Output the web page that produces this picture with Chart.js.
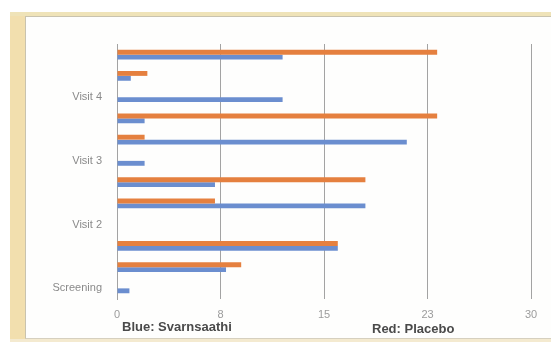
<!DOCTYPE html>
<html>
<head>
<meta charset="utf-8">
<script src="https://cdn.jsdelivr.net/npm/chart.js@4/dist/chart.umd.min.js"></script>
<style>
  html, body { margin: 0; padding: 0; background: #ffffff; }
  #page { position: relative; width: 551px; height: 342px; overflow: hidden; background: #ffffff; font-family: "Liberation Sans", Arial, sans-serif; }
  #paperLeft { position: absolute; left: 10px; top: 12px; width: 15px; height: 330px; background: #f2dfae; }
  #paperTop { position: absolute; left: 10px; top: 12px; width: 541px; height: 4px; background: #efe3b8; }
  #paperBottom { position: absolute; left: 10px; top: 339px; width: 541px; height: 3px; background: #f4ead0; }
  #panel { position: absolute; left: 25px; top: 16px; width: 526px; height: 323px; background: #fefefd;
           border-left: 1px solid #c9c3ae; border-top: 1px solid #c9c3ae; border-bottom: 1px solid #d6d0bf; box-sizing: border-box; }
  #chartBox { position: absolute; left: 0; top: 0; width: 551px; height: 342px; }
  .key { position: absolute; font-weight: bold; font-size: 13px; color: #4a4a4a; white-space: nowrap; }
</style>
</head>
<body>
<div id="page">
  <div id="paperLeft"></div>
  <div id="paperTop"></div>
  <div id="paperBottom"></div>
  <div id="panel"></div>
  <div id="chartBox"><canvas id="c" width="551" height="342"></canvas></div>
  <div class="key" style="left:122px; top:319px;">Blue: Svarnsaathi</div>
  <div class="key" style="left:372px; top:321px;">Red: Placebo</div>
</div>
<script>
// Rows listed top to bottom; only every third row carries a label.
const categories = ["", "", "Visit 4", "", "", "Visit 3", "", "", "Visit 2", "", "", "Screening"];
const placebo     = [23.2, 2.2, 0, 23.2, 2, 0, 18, 7.1, 0, 16, 9, 0];
const svarnsaathi = [12, 1, 12, 2, 21, 2, 7.1, 18, 0, 16, 7.9, 0.9];
const xTicks = [0, 7.5, 15, 22.5, 30];

const orange = "#e5803f";
const blue = "#6b8ecf";
const gridGray = "#a3a3a3";

new Chart(document.getElementById("c"), {
  type: "bar",
  data: {
    labels: categories,
    datasets: [
      { label: "Placebo", data: placebo, backgroundColor: orange, barPercentage: 1, categoryPercentage: 0.46 },
      { label: "Svarnsaathi", data: svarnsaathi, backgroundColor: blue, barPercentage: 1, categoryPercentage: 0.46 }
    ]
  },
  options: {
    indexAxis: "y",
    responsive: false,
    animation: false,
    layout: { padding: { top: 44, right: 20, left: 0, bottom: 0 } },
    plugins: { legend: { display: false }, tooltip: { enabled: false } },
    scales: {
      x: {
        min: 0, max: 30,
        afterBuildTicks: (scale) => { scale.ticks = xTicks.map(v => ({ value: v })); },
        afterFit: (scale) => { scale.height = 43; },
        grid: { color: gridGray, lineWidth: 1, drawTicks: false },
        border: { display: false },
        ticks: {
          padding: 9,
          color: "#9c9c9c",
          font: { family: "Liberation Sans", size: 11 },
          callback: (v) => String(Math.round(v))
        }
      },
      y: {
        afterFit: (scale) => { scale.width = 117; },
        grid: { display: false, drawTicks: false },
        border: { display: true, color: gridGray, width: 1 },
        ticks: {
          padding: 15,
          autoSkip: false,
          color: "#8a8a8a",
          font: { family: "Liberation Sans", size: 11 }
        }
      }
    }
  }
});
</script>
</body>
</html>
